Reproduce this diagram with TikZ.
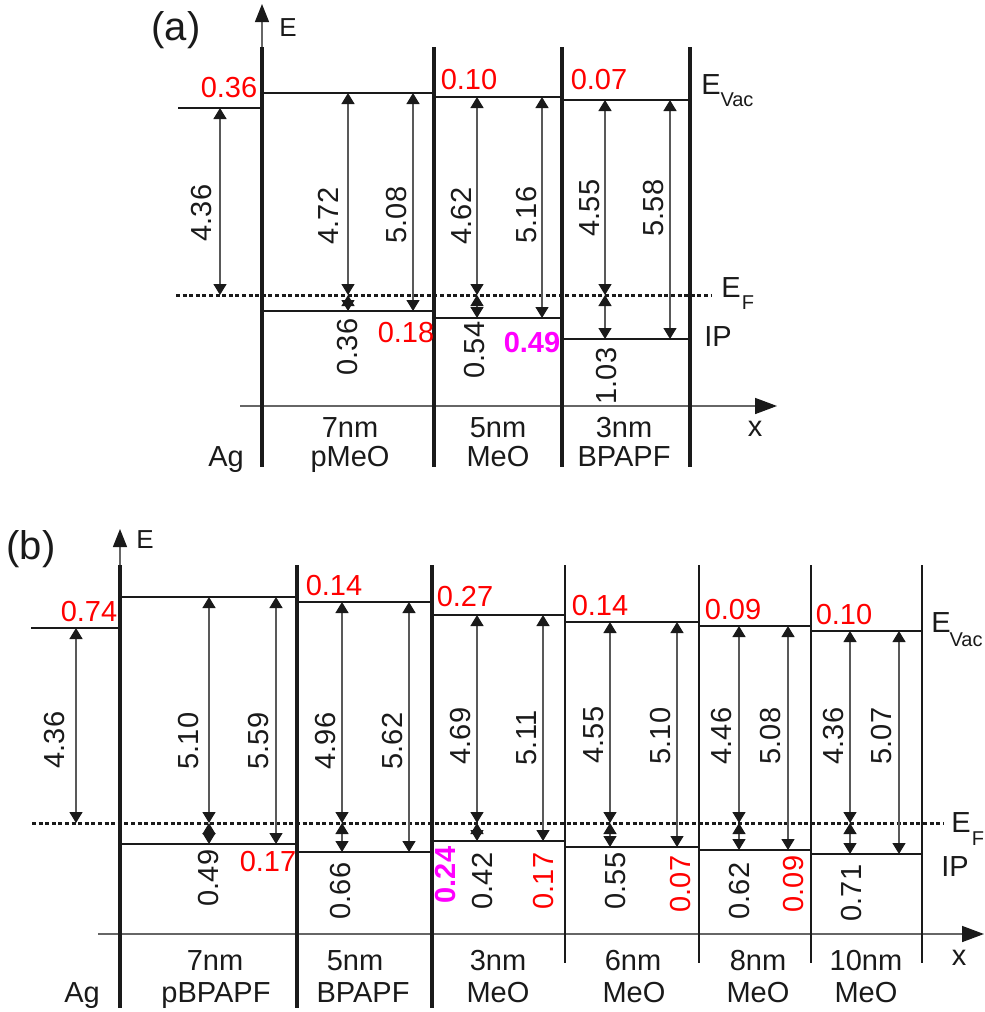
\documentclass[tikz,border=0pt]{standalone}
\usepackage{fontspec}
\setmainfont{Liberation Sans}
\usetikzlibrary{arrows.meta}
\definecolor{levelink}{HTML}{1A1A1A}
\definecolor{offsetred}{HTML}{FF0000}
\definecolor{offsetmag}{HTML}{FF00FF}

\begin{document}
\begin{tikzpicture}[x=0.5pt, y=-0.5pt,
                    every node/.style={levelink, inner sep=0pt, font=\fontsize{14.5}{16}\selectfont},
                    wall/.style={levelink, line width=1.8pt},
                    thinwall/.style={levelink, line width=1pt},
                    lvl/.style={levelink, line width=1.2pt},
                    fermi/.style={levelink, line width=1.5pt, dash pattern=on 2pt off 1.3pt},
                    eaxis/.style={black!60, line width=0.7pt, -{Triangle[width=7pt,length=9pt,color=levelink]}},
                    xaxis/.style={black!60, line width=0.8pt, -{Triangle[width=8pt,length=11pt,color=levelink]}},
                    dim/.style={black!65, line width=0.65pt,
                      {Triangle[width=6.5pt,length=5.5pt,color=levelink]}-{Triangle[width=6.5pt,length=5.5pt,color=levelink]}},
                    gap/.style={rotate=90},
                    redval/.style={offsetred},
                    redgap/.style={offsetred, rotate=90},
                    magval/.style={offsetmag, font=\fontsize{14.5}{16}\selectfont\bfseries},
                    sub/.style={font=\fontsize{10}{11}\selectfont},
                    layer/.style={anchor=base}]

  \useasboundingbox (0,0) rectangle (985,1012);

  %% ================= (a) =================
  \node (taga) at (176,30) {\fontsize{20}{22}\selectfont (a)};
  \draw[eaxis] (262,47) -- (262,4);
  \node (Ea) at (288,28) {\fontsize{13}{15}\selectfont E};
  \draw[xaxis] (240,406) -- (777,406);
  \node (xa) at (755,429) {x};

  %% 各層的介面
  \draw[wall] (262,47) -- (262,467);
  \draw[wall] (434,47) -- (434,467);
  \draw[wall] (562,47) -- (562,467);
  \draw[wall] (690,47) -- (690,467);

  %% 真空能階與 IP
  \draw[lvl] (178,108) -- (262,108);
  \draw[lvl] (262,93) -- (434,93);
  \draw[lvl] (262,311) -- (434,311);
  \draw[lvl] (434,97) -- (562,97);
  \draw[lvl] (434,318) -- (562,318);
  \draw[lvl] (562,100) -- (690,100);
  \draw[lvl] (562,339) -- (690,339);

  %% 費米能階
  \draw[fermi] (176,295) -- (712,295);

  %% 能量差
  \draw[dim] (220,108) -- (220,295);
  \draw[dim] (348,93) -- (348,295);
  \draw[dim] (348,295) -- (348,311);
  \draw[dim] (413,93) -- (413,311);
  \draw[dim] (477,97) -- (477,295);
  \draw[dim] (477,295) -- (477,318);
  \draw[dim] (542,97) -- (542,318);
  \draw[dim] (605,100) -- (605,295);
  \draw[dim] (605,295) -- (605,339);
  \draw[dim] (670,100) -- (670,339);

  \node[gap] (wfa0) at (202,213) {4.36};
  \node[gap] (wfa1) at (328,216) {4.72};
  \node[gap] (ipa1) at (397,215) {5.08};
  \node[gap] (wfa2) at (462,216) {4.62};
  \node[gap] (ipa2) at (527,215) {5.16};
  \node[gap] (wfa3) at (590,208) {4.55};
  \node[gap] (ipa3) at (654,208) {5.58};
  \node[gap] (hba1) at (348,347) {0.36};
  \node[gap] (hba2) at (475,350) {0.54};
  \node[gap] (hba3) at (607,376) {1.03};

  %% 介面偶極
  \node[redval] (dva0) at (229,88) {0.36};
  \node[redval] (dva1) at (469,80) {0.10};
  \node[redval] (dva2) at (599,80) {0.07};
  \node[redval] (dia1) at (406,333) {0.18};
  \node[magval] (dia2) at (532,343) {0.49};

  \node (Evaca) at (711,85) {E};
  \node[sub] (Evacsa) at (737,100) {Vac};
  \node (EFa) at (731,288) {E};
  \node[sub] (EFsa) at (748,303) {F};
  \node (IPa) at (718,337) {IP};

  \node[layer] (aga) at (226,466) {Ag};
  \node[layer] (tha1) at (350,437) {7nm};
  \node[layer] (mta1) at (350,466) {pMeO};
  \node[layer] (tha2) at (498,437) {5nm};
  \node[layer] (mta2) at (498,466) {MeO};
  \node[layer] (tha3) at (624,437) {3nm};
  \node[layer] (mta3) at (624,466) {BPAPF};

  %% ================= (b) =================
  \node (tagb) at (31,549) {\fontsize{20}{22}\selectfont (b)};
  \draw[eaxis] (120,565) -- (120,529);
  \node (Eb) at (145,540) {\fontsize{13}{15}\selectfont E};
  \draw[xaxis] (98,934) -- (984,934);
  \node (xb) at (959,958) {x};

  \draw[wall] (120,565) -- (120,1008);
  \draw[wall] (297,565) -- (297,1008);
  \draw[wall] (432,565) -- (432,1008);
  \draw[thinwall] (565,565) -- (565,963);
  \draw[thinwall] (699,565) -- (699,963);
  \draw[thinwall] (811,565) -- (811,963);
  \draw[thinwall] (922,565) -- (922,963);

  \draw[lvl] (31,628) -- (120,628);
  \draw[lvl] (120,597) -- (297,597);
  \draw[lvl] (120,844) -- (297,844);
  \draw[lvl] (297,602) -- (432,602);
  \draw[lvl] (297,852) -- (432,852);
  \draw[lvl] (432,615) -- (565,615);
  \draw[lvl] (432,841) -- (565,841);
  \draw[lvl] (565,622) -- (699,622);
  \draw[lvl] (565,847) -- (699,847);
  \draw[lvl] (699,626) -- (811,626);
  \draw[lvl] (699,850) -- (811,850);
  \draw[lvl] (811,631) -- (922,631);
  \draw[lvl] (811,854) -- (922,854);

  \draw[fermi] (32,823) -- (943,823);

  \draw[dim] (76,628) -- (76,823);
  \draw[dim] (209,597) -- (209,823);
  \draw[dim] (209,823) -- (209,844);
  \draw[dim] (276,597) -- (276,844);
  \draw[dim] (342,602) -- (342,823);
  \draw[dim] (342,823) -- (342,852);
  \draw[dim] (409,602) -- (409,852);
  \draw[dim] (477,615) -- (477,823);
  \draw[dim] (477,823) -- (477,841);
  \draw[dim] (543,615) -- (543,841);
  \draw[dim] (610,622) -- (610,823);
  \draw[dim] (610,823) -- (610,847);
  \draw[dim] (677,622) -- (677,847);
  \draw[dim] (739,626) -- (739,823);
  \draw[dim] (739,823) -- (739,850);
  \draw[dim] (788,626) -- (788,850);
  \draw[dim] (850,631) -- (850,823);
  \draw[dim] (850,823) -- (850,854);
  \draw[dim] (899,631) -- (899,854);

  \node[gap] (wfb0) at (55,740) {4.36};
  \node[gap] (wfb1) at (189,741) {5.10};
  \node[gap] (ipb1) at (259,741) {5.59};
  \node[gap] (wfb2) at (326,741) {4.96};
  \node[gap] (ipb2) at (393,741) {5.62};
  \node[gap] (wfb3) at (461,736) {4.69};
  \node[gap] (ipb3) at (527,738) {5.11};
  \node[gap] (wfb4) at (594,735) {4.55};
  \node[gap] (ipb4) at (661,736) {5.10};
  \node[gap] (wfb5) at (722,736) {4.46};
  \node[gap] (ipb5) at (771,736) {5.08};
  \node[gap] (wfb6) at (834,736) {4.36};
  \node[gap] (ipb6) at (882,736) {5.07};
  \node[gap] (hbb1) at (209,878) {0.49};
  \node[gap] (hbb2) at (341,891) {0.66};
  \node[gap] (hbb3) at (483,881) {0.42};
  \node[gap] (hbb4) at (616,881) {0.55};
  \node[gap] (hbb5) at (740,891) {0.62};
  \node[gap] (hbb6) at (852,893) {0.71};

  \node[redval] (dvb0) at (89,612) {0.74};
  \node[redval] (dvb1) at (334,586) {0.14};
  \node[redval] (dvb2) at (465,597) {0.27};
  \node[redval] (dvb3) at (600,606) {0.14};
  \node[redval] (dvb4) at (733,610) {0.09};
  \node[redval] (dvb5) at (844,615) {0.10};
  \node[redval] (dib1) at (268,862) {0.17};
  \node[magval, rotate=90] (dib2) at (446,875) {0.24};
  \node[redgap] (dib3) at (544,881) {0.17};
  \node[redgap] (dib4) at (681,884) {0.07};
  \node[redgap] (dib5) at (794,884) {0.09};

  \node (Evacb) at (941,623) {E};
  \node[sub] (Evacsb) at (966,640) {Vac};
  \node (EFb) at (961,823) {E};
  \node[sub] (EFsb) at (978,839) {F};
  \node (IPb) at (955,867) {IP};

  \node[layer] (agb) at (82,1002) {Ag};
  \node[layer] (thb1) at (215,970) {7nm};
  \node[layer] (mtb1) at (216,1002) {pBPAPF};
  \node[layer] (thb2) at (355,970) {5nm};
  \node[layer] (mtb2) at (363,1002) {BPAPF};
  \node[layer] (thb3) at (498,970) {3nm};
  \node[layer] (mtb3) at (498,1002) {MeO};
  \node[layer] (thb4) at (633,970) {6nm};
  \node[layer] (mtb4) at (634,1002) {MeO};
  \node[layer] (thb5) at (758,970) {8nm};
  \node[layer] (mtb5) at (758,1002) {MeO};
  \node[layer] (thb6) at (866,970) {10nm};
  \node[layer] (mtb6) at (866,1002) {MeO};

\end{tikzpicture}
\end{document}
